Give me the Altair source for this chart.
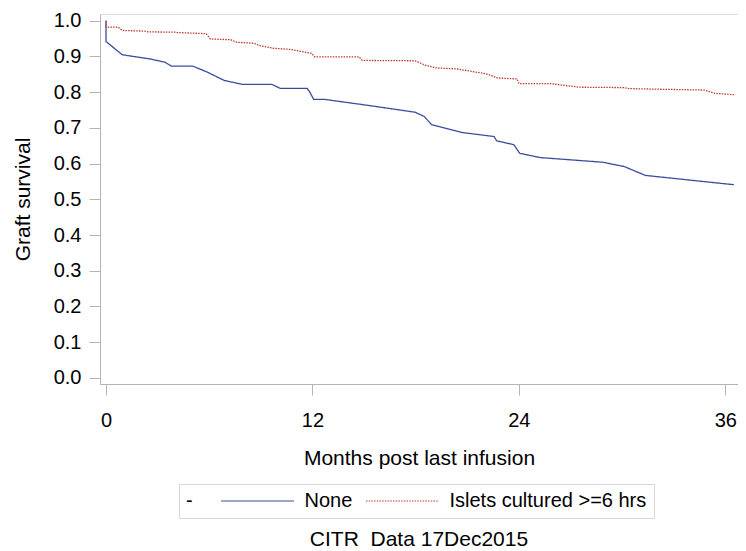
import altair as alt
import pandas as pd

# Kaplan-Meier style graft survival curves
none_months = [0.0, 0.0, 0.94, 2.57, 3.43, 3.80, 5.05, 5.90, 6.87, 7.92, 9.64, 10.12,
               11.69, 11.84, 12.07, 12.70, 15.40, 17.97, 18.50, 18.93, 20.74, 22.56,
               22.71, 23.71, 24.05, 25.24, 28.87, 30.12, 31.36, 36.50]
none_surv = [1.000, 0.942, 0.905, 0.893, 0.884, 0.873, 0.873, 0.856, 0.833, 0.822, 0.822, 0.811,
             0.811, 0.801, 0.780, 0.780, 0.762, 0.744, 0.732, 0.709, 0.687, 0.676,
             0.664, 0.653, 0.629, 0.617, 0.604, 0.592, 0.567, 0.541]

cult_months = [0.0, 0.0, 0.71, 0.94, 2.27, 2.46, 4.04, 4.15, 5.82, 6.07, 7.25, 7.60, 8.60,
               8.97, 9.74, 10.70, 11.94, 12.13, 14.70, 14.90, 17.97, 18.54, 19.21, 20.45,
               21.40, 22.08, 22.75, 23.90, 24.01, 25.81, 27.53, 30.12, 30.41, 34.80,
               35.38, 36.50]
cult_surv = [1.000, 0.982, 0.982, 0.973, 0.971, 0.969, 0.968, 0.967, 0.964, 0.949, 0.947, 0.940, 0.937,
             0.930, 0.923, 0.920, 0.909, 0.899, 0.899, 0.889, 0.888, 0.876, 0.868, 0.865,
             0.857, 0.852, 0.840, 0.837, 0.824, 0.824, 0.814, 0.813, 0.810, 0.806,
             0.797, 0.793]

groups = ["None", "Islets cultured >=6 hrs"]
x_ticks = [0, 12, 24, 36]
y_ticks = [round(i * 0.1, 1) for i in range(11)]

rows = []
for i, (m, s) in enumerate(zip(none_months, none_surv)):
    rows.append({"month": m, "surv": s, "group": groups[0], "order": i})
for i, (m, s) in enumerate(zip(cult_months, cult_surv)):
    rows.append({"month": m, "surv": s, "group": groups[1], "order": i})
df = pd.DataFrame(rows)

FONT = "Liberation Sans"
GRAY = "#b4b4b4"

legend = alt.Legend(title="-", orient="none", legendX=79, legendY=470,
                    direction="horizontal", titleOrient="left",
                    titleAnchor="middle", titleBaseline="middle",
                    titleFontSize=20, titleFontWeight="normal",
                    titleFont=FONT, labelFont=FONT, labelFontSize=20,
                    labelColor="black", titleColor="black", labelLimit=400,
                    symbolType="M-4,0H4", symbolSize=333, symbolOffset=26.5,
                    symbolStrokeWidth=1.2, labelOffset=37,
                    strokeColor="#d8d8d8", padding=7,
                    titlePadding=28, columnPadding=10)

chart = alt.Chart(df).mark_line(clip=True).encode(
    x=alt.X("month:Q",
            scale=alt.Scale(domain=[-0.349, 36.74], nice=False, zero=False),
            axis=alt.Axis(values=x_ticks, title="Months post last infusion", grid=False,
                          tickSize=11, labelPadding=15, titlePadding=17,
                          labelFontSize=20, titleFontSize=21, titleFontWeight="normal",
                          labelColor="black", titleColor="black",
                          tickColor=GRAY, domainColor=GRAY,
                          labelFont=FONT, titleFont=FONT)),
    y=alt.Y("surv:Q",
            scale=alt.Scale(domain=[-0.017, 1.019], nice=False, zero=False),
            axis=alt.Axis(values=y_ticks, format=".1f", title="Graft survival", grid=False,
                          tickSize=11, labelPadding=8, titlePadding=20,
                          labelFontSize=20, titleFontSize=21, titleFontWeight="normal",
                          labelColor="black", titleColor="black",
                          tickColor=GRAY, domainColor=GRAY,
                          labelFont=FONT, titleFont=FONT)),
    order="order:Q",
    color=alt.Color("group:N",
                    scale=alt.Scale(domain=groups, range=["#3a4c9c", "#c0392b"]),
                    legend=legend),
    strokeDash=alt.StrokeDash("group:N",
                              scale=alt.Scale(domain=groups, range=[[1, 0], [1.5, 1.2]]),
                              legend=legend),
    strokeWidth=alt.value(1.3),
).properties(
    width=638, height=370,
    title=alt.TitleParams("CITR\u00a0 Data 17Dec2015", orient="bottom", anchor="middle",
                          fontSize=21, fontWeight="normal", font=FONT, color="black",
                          offset=10),
    autosize=alt.AutoSizeParams(type="none"),
    padding={"left": 92, "top": 6, "right": 0, "bottom": 167},
).configure_view(stroke=GRAY, strokeWidth=1.2).configure(background="white")

chart.save("out.html", embed_options={"renderer": "svg", "actions": False})
